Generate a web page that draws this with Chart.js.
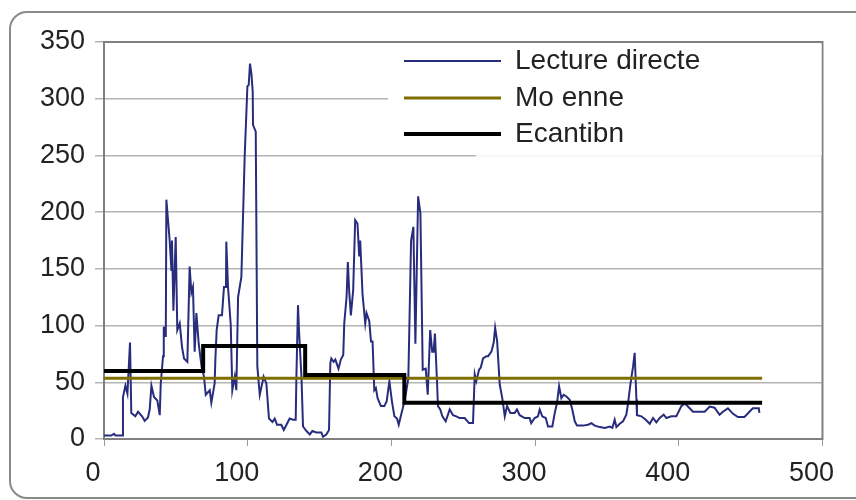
<!DOCTYPE html>
<html>
<head>
<meta charset="utf-8">
<script src="https://cdn.jsdelivr.net/npm/chart.js@4"></script>
<style>
  body { margin: 0; background: #fff; }
  #wrap { width: 856px; height: 500px; position: relative; }
</style>
</head>
<body>
<div id="wrap"><canvas id="myChart" width="856" height="500"></canvas></div>
<script>
/*global Chart*/
// lecture directe (x, y)
var readX = [0, 5, 7, 8, 13, 13.2, 14.9, 16.3, 18.1, 19, 21.8, 23.7, 26.5, 28.3, 30.6, 31.8, 33, 34.8, 37.1, 38.8,
  39.5, 41.1, 41.6, 43, 43.4, 45.7, 46.9, 47.3, 48.3, 49.9, 51, 52.7, 54.3, 55.7, 58, 59.6, 60.8, 61.9, 63.1, 64.3,
  65.9, 68, 69.6, 70.8, 73.6, 74.7, 77, 77.5, 78.4, 79.8, 82.1, 83.5, 84.9, 85.1, 86.3, 88.2, 89.3, 91, 92.1, 93.3,
  95.6, 97.9, 99.8, 100.7, 101.6, 102.6, 103.5, 103.7, 105.6, 106.7, 108.4, 111.1, 113, 114.8, 117.2, 118.8, 120.4, 123.4, 125.1, 127,
  129.2, 131.5, 133.4, 133.9, 135, 135.7, 137.4, 138.5, 140.9, 143.2, 145, 147.8, 151.3, 152.4, 154.7, 156.6, 157.5, 158.2, 159.8, 161,
  163.2, 164.8, 166.5, 167.2, 168.8, 169.7, 170.6, 171.8, 173.4, 174.8, 176.4, 177.6, 178.3, 179.9, 181.8, 182.7, 184.6, 185.8, 186.9, 188.1,
  189.2, 190.4, 192.7, 195.1, 196.7, 198.6, 200.4, 202.1, 203.9, 205.1, 206.7, 208.3, 210.2, 211.8, 213.7, 215.3, 216.7, 218.6, 220.2, 221.8,
  223.9, 225.3, 227, 228.4, 229.4, 230.3, 231.7, 232.4, 234, 235.5, 237.8, 240.6, 242.9, 245.2, 247.5, 251, 254, 256.8, 258, 259.1,
  261, 262.2, 263.8, 266.1, 267.3, 269.6, 271.2, 272.2, 273.6, 275.4, 277.3, 278.9, 280.5, 282.8, 285.8, 287.4, 289.3, 292.8, 296.2, 297.3,
  299.7, 302, 303.2, 305, 307.4, 309, 312, 313.7, 315.3, 316.7, 318.3, 319.9, 321.8, 324.1, 325.9, 327.6, 329.2, 333.4, 336.9, 339.2,
  341.5, 345, 348.5, 352, 353.8, 355.4, 356.6, 358.9, 361.2, 363.5, 364.7, 366.3, 368.2, 369.3, 370.5, 370.9, 374, 377, 379.8, 382.1,
  384.4, 386.7, 389.5, 391.4, 394.8, 398.3, 401.8, 404.1, 406.4, 409.9, 414.5, 418, 421.5, 424.9, 428.4, 430.7, 434.2, 437.6, 441.1, 445.7,
  449.2, 451.5, 455.7, 456.1]
var readY = [3, 3, 4.5, 3, 3, 37, 47, 40, 85, 23, 20, 24, 20, 16, 19, 26, 47, 37, 34, 21,
  49, 73, 99, 90, 211, 175, 149, 175, 113, 178, 96, 102, 81, 71, 68, 152, 129, 134, 77, 111,
  84, 63, 55, 39, 43, 32, 49, 70, 96, 109, 109, 134, 134, 174, 134, 101, 43, 55, 43, 125,
  143, 249, 311, 312, 331, 322, 306, 277, 271, 64, 39, 55, 49, 18, 15, 18, 12.6, 12.6, 8, 12.6,
  18, 17, 17, 55, 118, 96, 55, 11, 7, 4, 7, 5.7, 5.7, 2, 4, 8, 67, 71, 68, 70,
  62, 70, 74, 102, 125, 156, 131, 109, 131, 193, 190, 161, 175, 128, 102, 111, 104, 86, 86, 43,
  45, 36, 29, 29, 33, 51, 33, 20, 18, 12.6, 21, 29, 41, 54, 175, 187, 84, 214, 199, 61,
  62, 39, 96, 77, 77, 93, 52, 29, 26, 20, 15.6, 26, 21, 20, 18.5, 18.5, 14, 14, 57, 51,
  61, 63, 71, 73, 73, 77, 85, 98, 86, 48, 35, 20, 29, 23, 23, 26, 21, 18.5, 18.5, 14,
  18.5, 20, 26, 20, 18.5, 11, 11, 23, 32, 46.5, 36, 39, 37.5, 34.6, 26, 15.6, 11.8, 11.8, 12.6, 14,
  11.8, 10.5, 9.8, 11, 9.8, 17, 10.5, 13.4, 15.6, 21.4, 31.4, 48, 64, 76, 35, 21, 20, 17, 13.4, 18.5,
  14.7, 18.5, 21.4, 18.5, 20, 20, 29, 31.4, 28.6, 24, 24, 24, 28.6, 27.6, 21.4, 24, 27, 22.4, 19.4, 19.4,
  24, 27, 27, 23]

// moyenne
var meanX = [0, 458]
var meanY = [53.5, 53.5]

// echantillon (paliers)
var sampleX = [0, 69, 69, 140, 140, 209, 209, 458]
var sampleY = [60, 60, 82, 82, 56.5, 56.5, 32, 32]

var labels = ['Lecture directe', 'Mo enne', 'Ecantibn']
var xTicks = [0, 100, 200, 300, 400, 500]
var yTicks = [0, 50, 100, 150, 200, 250, 300, 350]

function pts (xs, ys) {
  return xs.map(function (x, i) { return { x: x, y: ys[i] } })
}

var FONT = '"Liberation Sans", Arial, sans-serif'

// rounded frame behind the chart
var framePlugin = {
  id: 'frame',
  beforeDraw: function (chart) {
    var c = chart.ctx
    c.save()
    c.fillStyle = '#fff'
    c.fillRect(0, 0, chart.width, chart.height)
    c.strokeStyle = '#8a8a8a'
    c.lineWidth = 2
    c.beginPath()
    c.roundRect(10, 12, 870, 486, 17)
    c.stroke()
    c.restore()
  },
  beforeDatasetsDraw: function (chart) {
    var a = chart.chartArea
    var c = chart.ctx
    c.save()
    c.strokeStyle = '#808080'
    c.lineWidth = 2
    c.strokeRect(a.left, a.top, a.right - a.left, a.bottom - a.top)
    c.restore()
  }
}

// legend box sitting inside the plot area
var legendPlugin = {
  id: 'boxLegend',
  beforeDatasetsDraw: function (chart) {
    var a = chart.chartArea
    var c = chart.ctx
    c.save()
    c.fillStyle = '#fff'
    c.fillRect(388, a.top + 2, a.right - 389, 110)
    c.fillStyle = 'rgba(255,255,255,0.85)'
    c.fillRect(476, a.top + 110, a.right - 477, 5)
    c.restore()
  },
  afterDraw: function (chart) {
    var c = chart.ctx
    var rows = [61, 98, 134]
    c.save()
    chart.data.datasets.forEach(function (ds, i) {
      c.strokeStyle = ds.borderColor
      c.lineWidth = ds.borderWidth
      c.beginPath()
      c.moveTo(404, rows[i])
      c.lineTo(501, rows[i])
      c.stroke()
      c.fillStyle = '#222'
      c.font = '28px ' + FONT
      c.textBaseline = 'middle'
      c.fillText(ds.label, 515, rows[i])
    })
    c.restore()
  }
}

var ctx = document.getElementById('myChart')
var myChart = new Chart(ctx, {
  type: 'scatter',
  data: {
    datasets: [
      { label: labels[0], data: pts(readX, readY), borderColor: '#282c7c', borderWidth: 2, order: 3 },
      { label: labels[1], data: pts(meanX, meanY), borderColor: '#7f6f00', borderWidth: 3, order: 2 },
      { label: labels[2], data: pts(sampleX, sampleY), borderColor: '#000000', borderWidth: 4, order: 1 }
    ]
  },
  options: {
    responsive: false,
    animation: false,
    showLine: true,
    elements: {
      point: { radius: 0, hoverRadius: 0 },
      line: { tension: 0, borderCapStyle: 'butt', borderJoinStyle: 'miter' }
    },
    layout: { padding: { left: 0, top: 42, right: 33, bottom: 0 } },
    plugins: {
      legend: { display: false },
      tooltip: { enabled: false }
    },
    scales: {
      x: {
        type: 'linear',
        min: 0,
        max: 500,
        afterBuildTicks: function (scale) {
          scale.ticks = xTicks.map(function (v) { return { value: v } })
        },
        afterFit: function (scale) { scale.height = 61 },
        ticks: { font: { size: 27, family: FONT }, color: '#222', padding: 11, labelOffset: -11, maxRotation: 0 },
        grid: { drawOnChartArea: false, drawTicks: true, tickLength: 7, color: '#9a9a9a' },
        border: { color: '#808080', width: 2 }
      },
      y: {
        min: 0,
        max: 350,
        afterBuildTicks: function (scale) {
          scale.ticks = yTicks.map(function (v) { return { value: v } })
        },
        afterFit: function (scale) { scale.width = 104 },
        ticks: { font: { size: 27, family: FONT }, color: '#222', padding: 10 },
        grid: { color: '#b4b4b4', tickLength: 9, lineWidth: 1.5 },
        border: { color: '#808080', width: 2 }
      }
    }
  },
  plugins: [framePlugin, legendPlugin]
})
</script>
</body>
</html>
